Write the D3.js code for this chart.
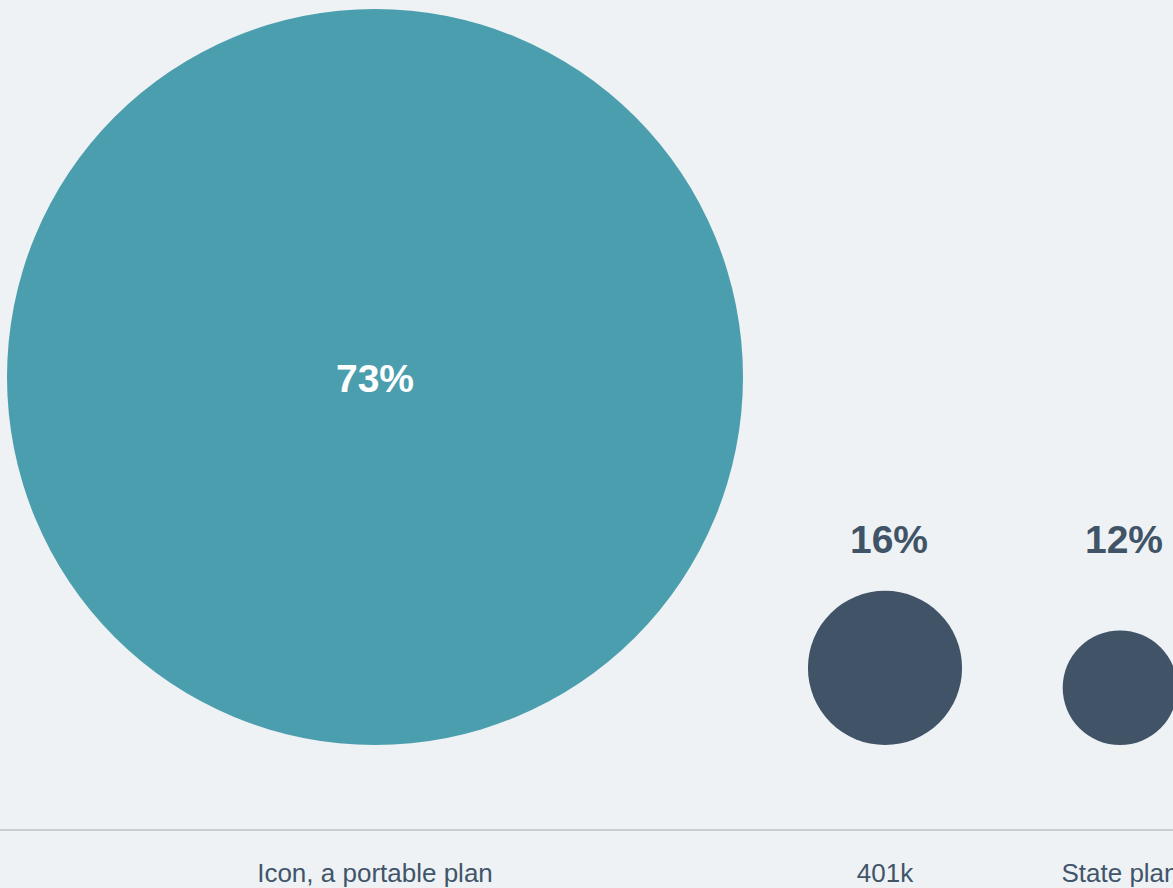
<!DOCTYPE html>
<html>
<head>
<meta charset="utf-8">
<script src="https://cdn.jsdelivr.net/npm/d3@7"></script>
<style>
    html, body { margin: 0; padding: 0; background: #eef2f5; }
    svg { display: block; }
    .pct { font-family: "Liberation Sans", Arial, Helvetica, sans-serif; font-weight: bold; font-size: 39px; }
    .cat { font-family: "Liberation Sans", Arial, Helvetica, sans-serif; font-size: 26px; fill: #41556a; }
</style>
</head>
<body>
<div id="chart"></div>
<script>
// 資料
var categories = ["Icon, a portable plan", "401k", "State plan"];
var shares = [73, 16, 12];
var colors = ["#4b9ead", "#415467", "#415467"];

var width = 1173;
var height = 888;
var baseY = 745;    // 圓底部對齊線
var ruleY = 830;

var svg = d3.select("#chart").append("svg")
    .attr("width", width)
    .attr("height", height);

svg.append("rect")
    .attr("width", width)
    .attr("height", height)
    .attr("fill", "#eef2f5");

// 半徑
var r = d3.scalePow().exponent(1.03).domain([0, 73]).range([0, 368]);
// 圓心 x
var x = d3.scaleOrdinal().domain(categories).range([375, 885, 1120]);

var data = categories.map(function(c, i) {
    return { name: c, value: shares[i], color: colors[i] };
});

svg.selectAll("circle.bubble")
    .data(data)
    .enter()
    .append("circle")
    .attr("class", "bubble")
    .attr("cx", function(d) { return x(d.name); })
    .attr("cy", function(d) { return baseY - r(d.value); })
    .attr("r", function(d) { return r(d.value); })
    .attr("fill", function(d) { return d.color; });

// 百分比標籤: 大圓放中間, 小圓放上方
svg.selectAll("text.pct")
    .data(data)
    .enter()
    .append("text")
    .attr("class", "pct")
    .attr("text-anchor", "middle")
    .attr("x", function(d, i) { return x(d.name) + (i == 0 ? 0 : 4); })
    .attr("y", function(d, i) { return i == 0 ? baseY - r(d.value) + 15 : 553; })
    .attr("fill", function(d, i) { return i == 0 ? "#ffffff" : "#415467"; })
    .text(function(d) { return d.value + "%"; });

svg.append("line")
    .attr("x1", 0)
    .attr("x2", width)
    .attr("y1", ruleY)
    .attr("y2", ruleY)
    .attr("stroke", "#c6cdd2")
    .attr("stroke-width", 2);

svg.selectAll("text.cat")
    .data(data)
    .enter()
    .append("text")
    .attr("class", "cat")
    .attr("text-anchor", "middle")
    .attr("x", function(d) { return x(d.name); })
    .attr("y", 882)
    .text(function(d) { return d.name; });
</script>
</body>
</html>
